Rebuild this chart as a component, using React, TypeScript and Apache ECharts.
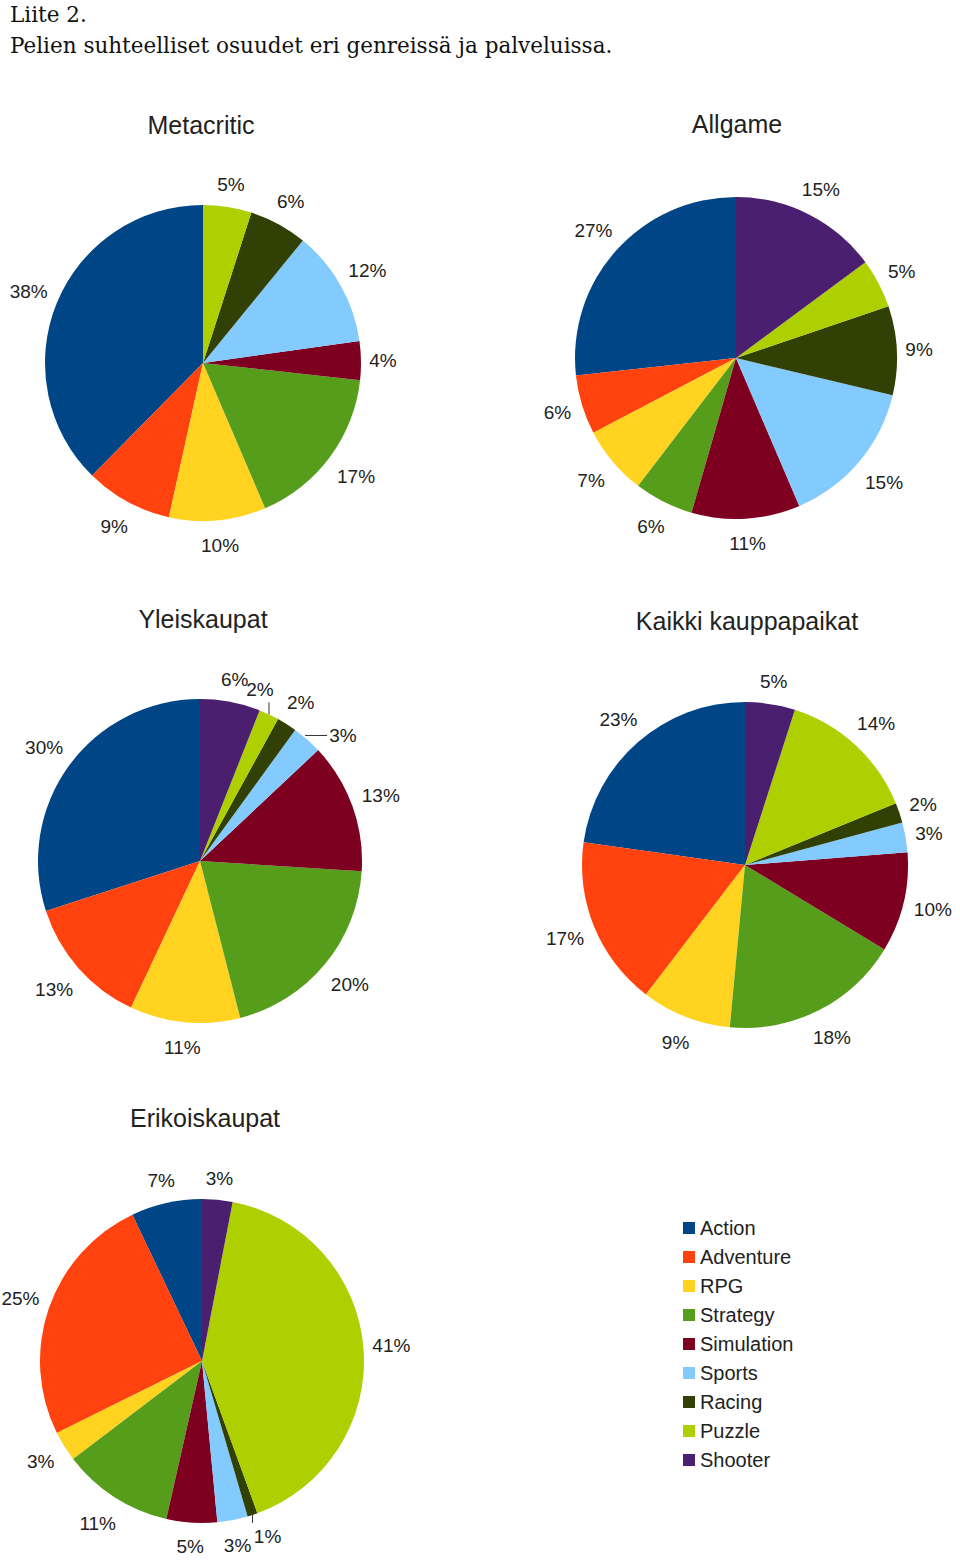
import React, { useEffect, useRef } from "react";
import * as echarts from "echarts";

// ---- data ----
const headerLines = ["Liite 2.", "Pelien suhteelliset osuudet eri genreissä ja palveluissa."];
const genres = ["Action", "Adventure", "RPG", "Strategy", "Simulation", "Sports", "Racing", "Puzzle", "Shooter"];
const chartNames = ["Metacritic", "Allgame", "Yleiskaupat", "Kaikki kauppapaikat", "Erikoiskaupat"];
const metacriticShares = [38, 9, 10, 17, 4, 12, 6, 5, 0];
const allgameShares = [27, 6, 7, 6, 11, 15, 9, 5, 15];
const yleiskaupatShares = [30, 13, 11, 20, 13, 3, 2, 2, 6];
const kaikkiShares = [23, 17, 9, 18, 10, 3, 2, 14, 5];
const erikoiskaupatShares = [7, 25, 3, 11, 5, 3, 1, 41, 3];
const allShares = [metacriticShares, allgameShares, yleiskaupatShares, kaikkiShares, erikoiskaupatShares];

// ---- styling / layout ----
const genreColors = ["#004586", "#ff420e", "#ffd320", "#579d1c", "#7e0021", "#83caff", "#314004", "#aecf00", "#4b1f6f"];
const pieLayout = [
  { center: [203, 363], radius: 158, title: [201, 112] },
  { center: [736, 358], radius: 161, title: [737, 111] },
  { center: [200, 861], radius: 162, title: [203, 606] },
  { center: [745, 865], radius: 163, title: [747, 608] },
  { center: [202, 1361], radius: 162, title: [205, 1105] },
];
const leaderLabels = [
  { chart: 2, genre: "Puzzle", side: "up" },
  { chart: 2, genre: "Sports", side: "right" },
  { chart: 4, genre: "Racing", side: "down" },
];
const TEXT = "#222";
const SANS = "'Liberation Sans', Arial, sans-serif";

function buildOption() {
  const series = allShares.map((shares, i) => {
    const L = pieLayout[i];
    return {
      type: "pie",
      name: chartNames[i],
      center: L.center,
      radius: L.radius,
      startAngle: 90,
      clockwise: false,
      avoidLabelOverlap: false,
      silent: true,
      label: {
        show: true,
        position: "outside",
        formatter: "{c}%",
        fontFamily: SANS,
        fontSize: 19,
        color: TEXT,
      },
      labelLine: { show: true, length: 10, length2: 2, lineStyle: { opacity: 0 } },
      itemStyle: { borderWidth: 0 },
      data: shares.map((v, k) => {
        const lead = leaderLabels.find((l) => l.chart === i && l.genre === genres[k]);
        return {
          name: genres[k],
          value: v,
          label: { show: v > 0 },
          labelLine: lead ? { lineStyle: { opacity: 1, color: "#333", width: 1 } } : undefined,
        };
      }),
      labelLayout: (p: any) => {
        const pts = p.labelLinePoints;
        if (!pts) return {};
        const cx = L.center[0];
        const cy = L.center[1];
        const e = pts[0];
        let dx = e[0] - cx;
        let dy = e[1] - cy;
        const len = Math.hypot(dx, dy) || 1;
        dx /= len;
        dy /= len;
        const w = p.labelRect.width;
        const h = p.labelRect.height;
        const lead = leaderLabels.find((l) => l.chart === i && l.genre === genres[p.dataIndex]);
        if (lead && lead.side === "up") {
          const t = [e[0], e[1] - 12];
          return { x: e[0] - 9, y: t[1] - 3 - h / 2, align: "center", verticalAlign: "middle", labelLinePoints: [e, t, t] };
        }
        if (lead && lead.side === "right") {
          const t = [e[0] + 20, e[1] - 4];
          const s = [e[0] - 2, e[1] - 4];
          return { x: t[0] + 2, y: t[1], align: "left", verticalAlign: "middle", labelLinePoints: [s, t, t] };
        }
        if (lead && lead.side === "down") {
          const t = [e[0], e[1] + 8];
          return { x: e[0] + 15, y: t[1] + 4 + h / 2, align: "center", verticalAlign: "middle", labelLinePoints: [e, t, t] };
        }
        const off = 8 + 3 * Math.abs(dy) + 3 * Math.max(dy, 0) + (w / 2) * Math.abs(dx) + (h / 2) * Math.abs(dy);
        return { x: e[0] + dx * off, y: e[1] + dy * off, align: "center", verticalAlign: "middle" };
      },
    };
  });

  return {
    animation: false,
    backgroundColor: "#ffffff",
    color: genreColors,
    title: chartNames.map((n, i) => ({
      text: n,
      left: pieLayout[i].title[0],
      top: pieLayout[i].title[1],
      textAlign: "center",
      padding: 0,
      textStyle: { fontFamily: SANS, fontSize: 25, fontWeight: "normal", color: TEXT },
    })),
    legend: {
      orient: "vertical",
      left: 683,
      top: 1218,
      padding: 0,
      itemWidth: 12,
      itemHeight: 12,
      itemGap: 9,
      icon: "rect",
      selectedMode: false,
      data: genres,
      textStyle: { fontFamily: SANS, fontSize: 20, color: TEXT },
    },
    graphic: headerLines.map((t, i) => ({
      type: "text",
      left: 10,
      top: [3, 34][i],
      style: { text: t, font: "21.5px 'DejaVu Serif', serif", fill: "#111" },
    })),
    series,
  };
}

export default function App() {
  const ref = useRef<HTMLDivElement>(null);
  useEffect(() => {
    if (!ref.current) return;
    const chart = echarts.init(ref.current, undefined, { renderer: "svg" });
    chart.setOption(buildOption() as any);
    return () => chart.dispose();
  }, []);
  return (
    <div
      ref={ref}
      style={{ position: "absolute", left: 0, top: 0, width: 960, height: 1561, background: "#fff" }}
    />
  );
}
